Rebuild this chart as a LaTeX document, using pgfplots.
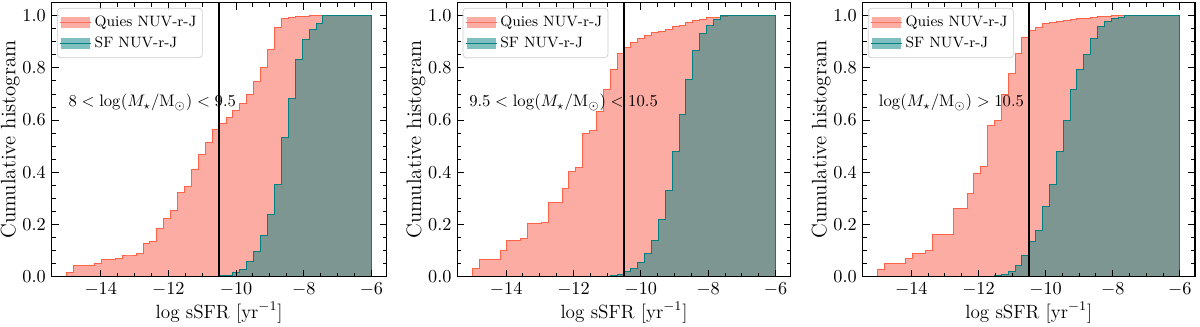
\documentclass[border=0pt]{standalone}
\usepackage{pgfplots}
\usepackage{pgfplotstable}
\pgfplotsset{compat=1.18}

\definecolor{salmonc}{RGB}{250,128,114}
\definecolor{tomatoc}{RGB}{255,99,71}
\definecolor{tealc}{RGB}{0,128,128}

% cumulative histograms, bin edges from -15 to -6 (44 bins)
% q = quiescent, s = star forming; 1,2,3 = mass bins
\pgfplotstableread{
x        q1    s1    q2    s2    q3    s3
-15.0000 0.015 nan   0.032 nan   0.026 nan
-14.7955 0.041 nan   0.066 nan   0.049 nan
-14.5909 0.041 nan   0.066 nan   0.049 nan
-14.3864 0.041 nan   0.066 nan   0.049 nan
-14.1818 0.051 nan   0.102 nan   0.070 nan
-13.9773 0.064 nan   0.138 nan   0.090 nan
-13.7727 0.064 nan   0.138 nan   0.090 nan
-13.5682 0.070 nan   0.147 nan   0.102 nan
-13.3636 0.083 nan   0.203 nan   0.160 nan
-13.1591 0.083 nan   0.205 nan   0.160 nan
-12.9545 0.087 nan   0.207 nan   0.162 nan
-12.7500 0.128 nan   0.284 nan   0.260 nan
-12.5455 0.133 nan   0.286 nan   0.262 nan
-12.3409 0.183 nan   0.339 nan   0.320 nan
-12.1364 0.224 nan   0.403 nan   0.396 nan
-11.9318 0.253 nan   0.420 nan   0.422 nan
-11.7273 0.322 nan   0.547 nan   0.578 nan
-11.5227 0.345 nan   0.560 nan   0.597 0.003
-11.3182 0.412 nan   0.632 nan   0.697 0.008
-11.1136 0.467 nan   0.717 0.002 0.777 0.019
-10.9091 0.514 nan   0.795 0.005 0.854 0.041
-10.7045 0.564 0.002 0.857 0.010 0.918 0.083
-10.5000 0.586 0.004 0.879 0.018 0.944 0.134
-10.2955 0.611 0.006 0.897 0.030 0.953 0.176
-10.0909 0.636 0.015 0.912 0.055 0.969 0.269
-9.8864  0.662 0.028 0.925 0.090 0.974 0.355
-9.6818  0.699 0.060 0.935 0.140 0.978 0.480
-9.4773  0.748 0.095 0.941 0.220 0.982 0.597
-9.2727  0.800 0.157 0.949 0.330 0.985 0.716
-9.0682  0.872 0.238 0.957 0.480 0.988 0.793
-8.8636  0.953 0.355 0.964 0.620 0.988 0.853
-8.6591  0.989 0.533 0.975 0.755 0.995 0.914
-8.4545  0.995 0.684 0.982 0.865 0.997 0.957
-8.2500  0.997 0.831 0.987 0.930 0.997 0.978
-8.0455  0.998 0.910 0.992 0.963 1.000 0.988
-7.8409  0.999 0.949 0.995 0.985 1.000 0.995
-7.6364  1.000 0.972 0.997 1.000 1.000 1.000
-7.4318  1.000 1.000 0.999 1.000 1.000 1.000
-7.2273  1.000 1.000 1.000 1.000 1.000 1.000
-7.0227  1.000 1.000 1.000 1.000 1.000 1.000
-6.8182  1.000 1.000 1.000 1.000 1.000 1.000
-6.6136  1.000 1.000 1.000 1.000 1.000 1.000
-6.4091  1.000 1.000 1.000 1.000 1.000 1.000
-6.2045  1.000 1.000 1.000 1.000 1.000 1.000
-6.0000  1.000 1.000 1.000 1.000 1.000 1.000
}\hist

\tikzset{anno/.style={anchor=west, font=\fontsize{9.6}{11}\selectfont}}

\pgfplotsset{
  panel/.style={
    scale only axis, height=164.4pt,
    xmin=-15.45, xmax=-5.55, ymin=0, ymax=1.05,
    xtick={-14,-12,-10,-8,-6},
    ytick={0,0.2,0.4,0.6,0.8,1.0},
    minor x tick num=3, minor y tick num=3,
    tick align=inside,
    major tick length=4.2pt, minor tick length=2.4pt,
    every tick/.style={black, line width=0.6pt},
    axis line style={line width=0.9pt},
    yticklabel style={/pgf/number format/.cd,fixed,fixed zerofill,precision=1},
    tick label style={font=\fontsize{11}{13}\selectfont},
    xlabel={log sSFR [yr$^{-1}$]},
    ylabel={Cumulative histogram},
    every axis x label/.style={at={(axis description cs:0.5,0)},
      anchor=center, yshift=-21.5pt, font=\fontsize{11.5}{13}\selectfont},
    every axis y label/.style={at={([xshift=-19pt]axis description cs:0,0.5)},
      rotate=90, anchor=south, inner sep=0pt, font=\fontsize{12.5}{14}\selectfont},
    axis on top,
    legend cell align=left,
    legend style={at={(0.016,0.981)}, anchor=north west,
      draw=black!20, rounded corners=2pt, fill=white, fill opacity=0.8,
      text opacity=1, font=\fontsize{9}{11}\selectfont,
      inner xsep=1.5pt, inner ysep=2.5pt, row sep=1pt},
    legend image code/.code={%
      \path (0pt,0pt) -- (18.3pt,0pt);
      \fill[##1,draw=none,sharp corners] (0.5pt,-3.2pt) rectangle (17.9pt,3.2pt);},
  },
  quies/.style={const plot, draw=tomatoc, line width=0.6pt,
    fill=salmonc, fill opacity=0.65, draw opacity=1},
  sf/.style={const plot, draw=tealc, line width=0.6pt,
    fill=tealc, fill opacity=0.5, draw opacity=1},
  cut/.style={black, line width=0.9pt, forget plot},
}

\begin{document}
\begin{tikzpicture}

\begin{axis}[panel, width=201pt, at={(0pt,0pt)}]
\addplot[quies] table[x=x,y=q1] {\hist} \closedcycle;
\addlegendentry{Quies NUV-r-J}
\addplot[sf] table[x=x,y=s1] {\hist} \closedcycle;
\addlegendentry{SF NUV-r-J}
\addplot[cut] coordinates {(-10.5,0) (-10.5,1.05)};
\node[anno] at (axis cs:-15.12,0.667) {$8<\log(M_\star/\mathrm{M}_\odot)<9.5$};
\end{axis}

\begin{axis}[panel, width=200pt, at={(243.4pt,0pt)}]
\addplot[quies] table[x=x,y=q2] {\hist} \closedcycle;
\addlegendentry{Quies NUV-r-J}
\addplot[sf] table[x=x,y=s2] {\hist} \closedcycle;
\addlegendentry{SF NUV-r-J}
\addplot[cut] coordinates {(-10.5,0) (-10.5,1.05)};
\node[anno] at (axis cs:-15.27,0.667) {$9.5<\log(M_\star/\mathrm{M}_\odot)<10.5$};
\end{axis}

\begin{axis}[panel, width=199.4pt, at={(486.6pt,0pt)}]
\addplot[quies] table[x=x,y=q3] {\hist} \closedcycle;
\addlegendentry{Quies NUV-r-J}
\addplot[sf] table[x=x,y=s3] {\hist} \closedcycle;
\addlegendentry{SF NUV-r-J}
\addplot[cut] coordinates {(-10.5,0) (-10.5,1.05)};
\node[anno] at (axis cs:-15.14,0.667) {$\log(M_\star/\mathrm{M}_\odot)>10.5$};
\end{axis}

\pgfresetboundingbox
\path[use as bounding box] (-31pt,-29.6pt) rectangle (689pt,166pt);
\end{tikzpicture}
\end{document}
